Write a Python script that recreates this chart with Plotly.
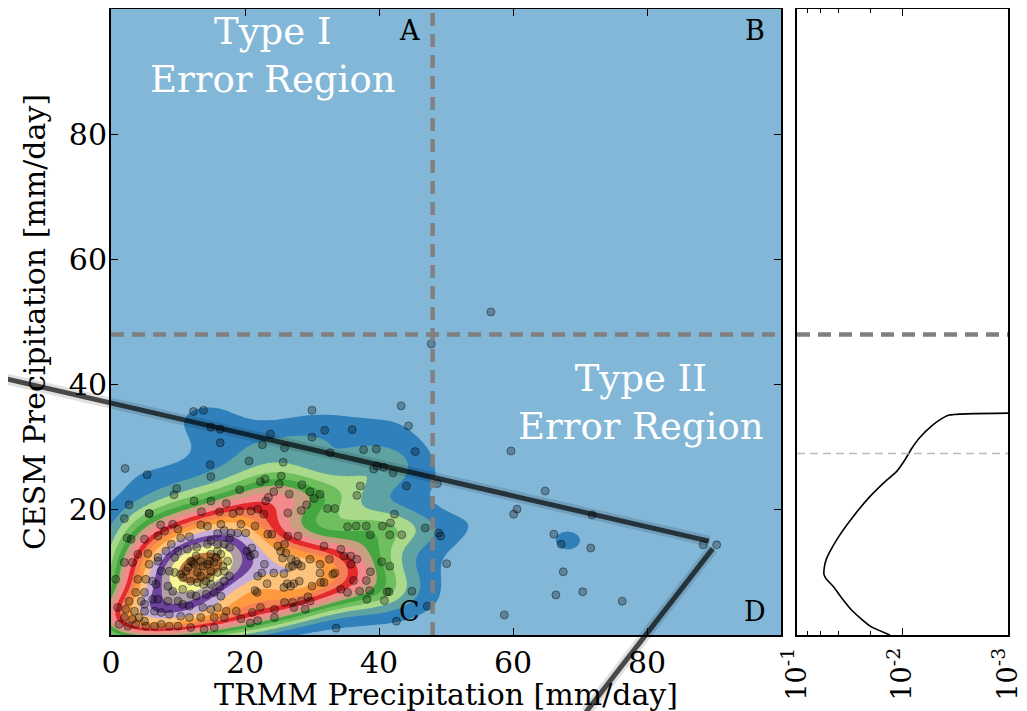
import numpy as np
import plotly.graph_objects as go

# ---------------- data ----------------
trmm = [
    12.3, 13.8, 14.9, 16.3, 16.3, 23.8, 22.6, 25.9, 20.6, 25.7, 14.8, 14.9, 2.1, 5.4, 9.8, 9.4, 2.7, 5.7,
    23.0, 22.3, 25.1, 25.4, 24.3, 26.6, 19.2, 23.5, 23.1, 14.9, 12.4, 17.2, 19.2, 20.9, 21.9, 13.5, 16.2,
    30.0, 43.3, 44.4, 31.9, 36.0, 30.0, 37.7, 39.6, 45.4, 32.7, 39.2, 39.7, 40.7, 42.1, 48.7, 44.1, 37.2,
    36.7, 28.5, 29.7, 31.2, 30.3, 29.2, 28.4, 32.3, 33.4, 42.3,
    46.9, 48.9, 49.2, 50.1, 36.6, 38.1, 38.7, 40.5, 41.7, 41.6, 43.4, 35.8, 36.7, 40.4, 41.6, 38.7, 38.1,
    36.2, 37.1, 38.6, 38.2, 41.2, 40.8, 41.5, 44.9, 47.2, 42.6,
    18.2, 22.8, 26.4, 35.3, 19.4, 21.5, 17.9, 18.9, 20.1, 23.4, 24.0, 26.4, 27.9, 31.8, 34.3, 34.8, 32.6,
    29.7, 31.2, 35.8, 24.9, 25.9, 25.3, 26.1, 25.6, 26.9, 27.6, 27.9, 27.1, 26.6, 28.4, 25.8, 24.3, 22.9,
    22.5, 20.8, 21.4, 20.3, 21.0, 21.9, 23.3, 26.3, 27.3, 26.8, 28.1, 25.8, 21.5, 21.8, 31.2, 31.3, 31.8,
    30.0, 33.1, 33.4, 34.3, 35.3, 25.9, 27.1, 28.4, 29.4, 29.7, 27.3, 29.0, 24.4, 22.3, 21.1, 18.7, 19.4,
    20.8, 21.9, 24.4, 33.6,
    2.0, 5.7, 7.4, 8.0, 9.2, 10.0, 10.4, 11.7, 13.4, 14.4, 16.4, 16.9, 17.7, 15.9, 14.9, 2.4, 3.0, 5.0,
    7.0, 9.0, 11.4, 12.8, 14.4, 15.9, 16.9, 17.7, 4.0, 5.5, 7.0, 8.2, 9.5, 10.0, 3.2, 2.0, 5.7, 7.0, 7.5,
    8.7, 9.5, 10.4, 11.2, 11.9, 12.4, 13.4, 14.4, 15.4, 15.9, 16.4, 17.4, 14.9, 12.9, 14.9, 15.9, 16.9,
    17.7, 10.7, 11.9, 12.9, 14.2, 14.9, 16.2, 16.9, 5.2, 4.0, 0.7, 6.2, 6.7, 8.5, 9.2, 10.7, 11.9, 12.7,
    14.2, 15.4, 16.4, 3.7, 5.0, 2.7, 4.5, 5.0, 6.2, 7.0, 8.5, 10.0, 10.7, 11.7, 13.7, 14.9, 15.9, 17.2,
    1.0, 2.2, 3.5, 5.0, 6.5, 7.5, 8.7, 10.4, 11.7, 13.4, 15.4, 16.9, 2.0, 3.2, 4.2, 5.0, 1.2, 2.5, 3.7,
    5.2, 6.5, 7.5, 8.7, 10.0, 11.9, 13.9, 15.4,
    12.2, 13.7, 14.7, 13.4, 11.5, 15.7, 12.7, 14.8, 16.7, 13.8,
    56.7, 47.8, 59.7, 60.6, 60.1, 64.8, 66.1, 67.2, 71.6, 67.5, 66.4, 70.4, 76.3, 71.8, 88.4, 90.4, 58.7,
]
cesm = [
    35.7, 35.9, 33.2, 32.9, 30.7, 32.1, 30.4, 29.9, 27.8, 27.6, 27.2, 25.3, 26.6, 25.6, 23.4, 22.4, 20.8, 19.4,
    24.9, 24.5, 24.1, 25.4, 22.9, 22.5, 23.2, 22.0, 21.4, 21.4, 21.4, 21.0, 19.8, 19.8, 20.1, 19.7, 19.7,
    35.9, 36.6, 33.4, 32.7, 32.8, 31.6, 29.6, 29.7, 29.3, 29.1, 26.5, 27.0, 26.8, 25.9, 24.2, 23.8, 23.8,
    22.3, 24.0, 22.9, 22.5, 21.8, 20.8, 19.9, 20.2, 20.2, 19.3,
    17.1, 16.3, 15.8, 11.4, 17.4, 17.4, 16.0, 17.4, 17.9, 16.0, 16.0, 12.6, 12.1, 11.7, 11.0, 10.1, 8.7,
    8.7, 7.0, 7.1, 5.7, 6.9, 5.5, 6.9, 7.0, 4.6, 2.2,
    19.4, 19.3, 19.5, 17.3, 17.7, 17.4, 16.3, 16.3, 16.3, 16.1, 16.1, 15.8, 15.8, 14.2, 13.7, 12.6, 12.1,
    12.1, 11.3, 11.3, 14.2, 14.5, 13.4, 13.1, 12.3, 12.1, 11.8, 11.3, 11.0, 10.8, 11.0, 9.8, 9.9, 11.3,
    9.9, 12.6, 12.9, 13.4, 13.9, 9.4, 8.2, 8.2, 8.2, 7.8, 8.6, 7.6, 7.1, 6.8, 9.9, 8.4, 8.4,
    7.8, 9.7, 9.9, 7.3, 6.8, 5.2, 5.2, 5.4, 6.1, 5.4, 4.4, 4.1, 4.1, 4.4, 3.6, 3.8, 2.6,
    1.9, 2.3, 2.8, 1.1,
    18.6, 19.4, 17.6, 16.6, 17.7, 16.9, 15.5, 15.7, 17.6, 17.4, 17.7, 16.7, 15.5, 16.2, 15.1, 15.5, 15.3, 15.3,
    15.8, 14.5, 13.7, 14.0, 14.5, 14.5, 14.5, 14.0, 12.9, 13.0, 12.4, 13.4, 12.4, 13.4, 11.6, 11.6, 11.3, 11.8, 10.2,
    10.2, 10.0, 9.7, 10.2, 11.8, 11.3, 11.8, 11.3, 11.6, 13.4, 12.9, 11.8, 12.9, 10.0, 10.2, 10.0, 10.2,
    9.4, 9.2, 8.6, 8.4, 8.6, 8.1, 7.8, 8.6, 8.9, 8.9, 8.9, 8.6, 8.1, 7.8, 7.0, 7.3, 6.5, 6.2,
    6.5, 6.8, 6.2, 6.8, 6.8, 5.4, 5.4, 4.9, 5.7, 5.7, 5.4, 5.4, 4.9, 4.6, 4.4, 4.1, 4.4, 3.8,
    4.4, 4.1, 3.8, 3.8, 3.8, 3.6, 3.3, 3.0, 2.8, 2.8, 2.8, 2.8, 2.8, 2.5, 2.8, 2.2, 1.7, 1.4, 1.7,
    1.4, 1.4, 1.7, 1.4, 1.4, 1.2, 0.9, 1.2,
    11.6, 11.0, 11.8, 9.4, 10.8, 12.4, 12.6, 9.2, 11.0, 8.1,
    51.6, 46.5, 29.4, 20.1, 19.3, 23.0, 16.1, 14.5, 13.9, 10.1, 6.4, 6.9, 5.4, 19.2, 14.4, 14.4, 3.2,
]

# marginal density of CESM precipitation (right panel)
marg_y = [0.0, 1.45, 4.0, 6.0, 7.6, 9.0, 9.7, 10.9, 12.0, 13.1, 15.6, 18.9, 22.1, 24.7, 26.1, 28.0, 29.8,
          31.6, 33.4, 34.4, 35.1, 35.45]
marg_d = [0.01315, 0.0204, 0.0304, 0.0380, 0.0445, 0.0530, 0.0555, 0.0550, 0.0530, 0.0495, 0.0407, 0.0294,
          0.0204, 0.0142, 0.0114, 0.00947, 0.00818, 0.00682, 0.00528, 0.00440, 0.00367, 0.0009]

threshold_trmm = 48
threshold_cesm = 48
marg_ref_y = 29

overlay_x1 = [-16.4, 89.25]
overlay_y1 = [41.1, 15.0]
overlay_x2 = [89.8, 70.9]
overlay_y2 = [13.8, -12.3]

x_ticks = [0, 20, 40, 60, 80]
y_ticks = [20, 40, 60, 80]
xr = [0, 100]
yr = [0, 100]

# relative density levels (fraction of the peak) separating the filled bands
density_levels = [0.07, 0.13, 0.18, 0.225, 0.27, 0.315, 0.36, 0.41, 0.46, 0.51, 0.57, 0.64, 0.71, 0.78, 0.85, 0.92]
band_colors = [
    "#82b7d7", "#2f80bb", "#5ea2a3", "#a9d98b", "#70bf5f", "#46a642", "#c89f80",
    "#f28a8b", "#e42a2d", "#f58055", "#fd9a3d", "#fdc27b", "#c6aed8", "#6e439d",
    "#b09fa6", "#f8f595", "#c07a3c",
]

# ---------------- KDE ----------------
pts = np.vstack([trmm, cesm])
bw_factor = 0.3
cov = np.cov(pts) * bw_factor ** 2
inv = np.linalg.inv(cov)
grid = np.linspace(xr[0], xr[1], 251)
gx, gy = np.meshgrid(grid, grid)
z = np.zeros_like(gx)
for px, py in zip(trmm, cesm):
    dx = gx - px
    dy = gy - py
    q = inv[0, 0] * dx * dx + 2 * inv[0, 1] * dx * dy + inv[1, 1] * dy * dy
    z += np.exp(-0.5 * q)
z /= z.max()

nlev = len(density_levels)
xp = [0.0] + density_levels + [1.0 + 1e-9]
fp = [-1.0] + list(range(nlev)) + [float(nlev)]
w = np.interp(z, xp, fp)

cscale = []
for j, c in enumerate(band_colors):
    cscale.append([max(0.0, (j - 0.5) / nlev), c])
    cscale.append([min(1.0, (j + 0.5) / nlev), c])

FONT = "DejaVu Serif"
fig = go.Figure()

fig.add_trace(go.Contour(
    x=grid, y=grid, z=w, colorscale=cscale, showscale=False,
    autocontour=False,
    contours=dict(start=0.0, end=float(nlev - 1), size=1.0, coloring="fill", showlines=False),
    line=dict(width=0, smoothing=1.3), hoverinfo="skip", xaxis="x", yaxis="y",
))

fig.add_trace(go.Scatter(
    x=trmm, y=cesm, mode="markers", xaxis="x", yaxis="y",
    marker=dict(size=8, color="rgba(0,0,0,0.28)", line=dict(color="rgba(0,0,0,0.4)", width=1)),
    hoverinfo="skip", showlegend=False,
))

fig.add_trace(go.Scatter(
    x=marg_d, y=marg_y, mode="lines", xaxis="x2", yaxis="y2",
    line=dict(color="black", width=1.6, shape="spline", smoothing=0.6), showlegend=False, hoverinfo="skip",
))

shapes = []
dash_thick = "13px,8px"
shapes.append(dict(type="line", xref="x", yref="y", x0=threshold_trmm, x1=threshold_trmm, y0=yr[0], y1=yr[1],
                   line=dict(color="#808080", width=4.5, dash=dash_thick)))
shapes.append(dict(type="line", xref="x", yref="y", x0=xr[0], x1=xr[1], y0=threshold_cesm, y1=threshold_cesm,
                   line=dict(color="#808080", width=4.5, dash=dash_thick)))
shapes.append(dict(type="line", xref="x2 domain", yref="y2", x0=0, x1=1, y0=threshold_cesm, y1=threshold_cesm,
                   line=dict(color="#808080", width=4.5, dash=dash_thick)))
shapes.append(dict(type="line", xref="x2 domain", yref="y2", x0=0, x1=1, y0=marg_ref_y, y1=marg_ref_y,
                   line=dict(color="#bbbbbb", width=1.5, dash="8px,5px")))


def dom(v, r):
    return (v - r[0]) / (r[1] - r[0])


for xs, ys in [(overlay_x1, overlay_y1), (overlay_x2, overlay_y2)]:
    shapes.append(dict(type="line", xref="x domain", yref="y domain", layer="above",
                       x0=dom(xs[0], xr), x1=dom(xs[1], xr), y0=dom(ys[0], yr), y1=dom(ys[1], yr),
                       line=dict(color="rgba(0,0,0,0.12)", width=11)))
    shapes.append(dict(type="line", xref="x domain", yref="y domain", layer="above",
                       x0=dom(xs[0], xr), x1=dom(xs[1], xr), y0=dom(ys[0], yr), y1=dom(ys[1], yr),
                       line=dict(color="rgba(0,0,0,0.68)", width=5)))

annotations = [
    dict(x=24.2, y=92.5, xref="x", yref="y", text="Type I<br>Error Region", showarrow=False,
         font=dict(family=FONT, size=37, color="white")),
    dict(x=79.1, y=37.1, xref="x", yref="y", text="Type II<br>Error Region", showarrow=False,
         font=dict(family=FONT, size=37, color="white")),
    # axis titles
    dict(x=0.5, y=0, xref="x domain", yref="y domain", yshift=-59, text="TRMM Precipitation [mm/day]",
         showarrow=False, yanchor="middle", font=dict(family=FONT, size=30, color="black")),
    dict(x=0, y=0.5, xref="x domain", yref="y domain", xshift=-76, text="CESM Precipitation [mm/day]",
         textangle=-90, showarrow=False, xanchor="center", font=dict(family=FONT, size=30, color="black")),
]
for lab, ax, ay in [("A", 44.5, 96.5), ("B", 96.1, 96.5), ("C", 44.5, 3.8), ("D", 96.1, 3.8)]:
    annotations.append(dict(x=ax, y=ay, xref="x", yref="y", text=lab, showarrow=False,
                            font=dict(family=FONT, size=27, color="black")))

axis_common = dict(showline=True, linecolor="black", linewidth=2, mirror="ticks", ticks="inside",
                   ticklen=7, tickcolor="black", showgrid=False, zeroline=False, automargin=False)
tick_font = dict(family=FONT, size=30, color="black")

# page body offsets the figure by ~7px; domains are compensated so the axes land on the reference pixels
W, H = 1027, 711
OX, OY = 7, 7
xdom_main = [(110 - OX) / W, (780 - OX) / W]
xdom_side = [(796 - OX) / W, (1007 - OX) / W]
ydom = [(H - (634 - OY)) / H, (H - (8 - OY)) / H]

fig.update_layout(
    width=W, height=H, margin=dict(l=0, r=0, t=0, b=0),
    paper_bgcolor="white", plot_bgcolor="white", showlegend=False,
    font=dict(family=FONT, color="black"),
    xaxis=dict(domain=xdom_main, range=xr, tickvals=x_ticks, anchor="y", tickfont=tick_font,
               **axis_common),
    yaxis=dict(domain=ydom, range=yr, tickvals=y_ticks, anchor="x", tickfont=tick_font,
               ticklabelstandoff=-4, **axis_common),
    xaxis2=dict(domain=xdom_side, type="log", range=[-1, -3], anchor="y2",
                tickvals=[0.1, 0.01, 0.001], ticktext=["10<sup>-1</sup>", "10<sup>-2</sup>", "10<sup>-3</sup>"],
                tickangle=-90, minor=dict(ticks="inside", ticklen=4, tickcolor="black"),
                tickfont=dict(family=FONT, size=27, color="black"),
                **axis_common),
    yaxis2=dict(domain=ydom, range=yr, anchor="x2", showticklabels=False,
                showline=True, linecolor="black", linewidth=2, mirror=True, ticks="",
                showgrid=False, zeroline=False, automargin=False),
    shapes=shapes, annotations=annotations,
)

fig.write_html("out.html")
